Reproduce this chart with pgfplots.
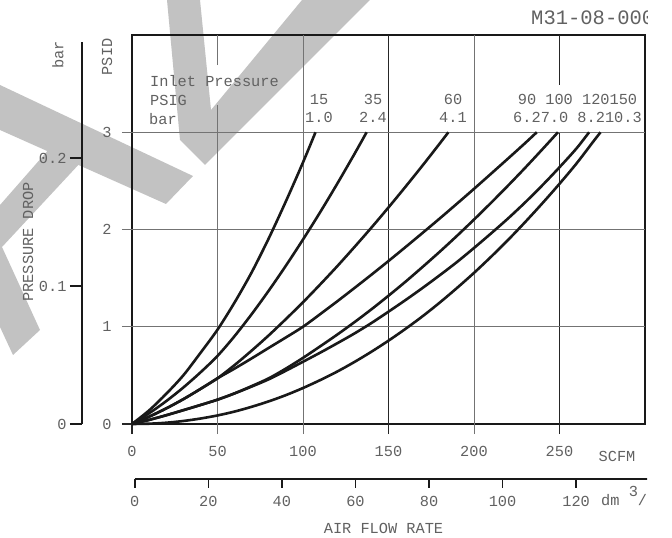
\documentclass[border=0pt]{standalone}
\usepackage{pgfplots}
\pgfplotsset{compat=1.18}
\usepackage{fontspec}
\setmainfont{Liberation Mono}
\definecolor{wm}{gray}{0.76}
\definecolor{txt}{gray}{0.38}
\definecolor{grd}{gray}{0.45}
\definecolor{grdk}{gray}{0.15}
\definecolor{crv}{gray}{0.1}
\begin{document}
\begin{tikzpicture}[font=\fontsize{15.3}{17}\selectfont,
  t/.style={text=txt,inner sep=0pt}]
\path (0pt,0pt) rectangle (672pt,538pt);
\begin{scope}
\clip (0pt,0pt) rectangle (647pt,538pt);
% watermark
\begin{scope}[x=1pt,y=1pt]
\fill[wm] (0,453) -- (193,362) -- (166,334) -- (0,408) -- cycle;
\fill[wm] (50,390) -- (82,377) -- (2,291) -- (40,208) -- (13,183) -- (0,211) -- (0,333) -- cycle;
\fill[wm] (167,538) -- (180,398) -- (205,373) -- (370,538) -- (302,538) -- (211,428) -- (200,538) -- cycle;
\end{scope}

% main axis
\begin{axis}[at={(132pt,114pt)},anchor=south west,scale only axis,
  width=513pt,height=389pt,xmin=0,xmax=300,ymin=0,ymax=4,clip=false,
  axis line style={line width=2pt,black!90},
  xtick={0,50,...,250},ytick={0,1,2,3},major tick length=0pt,
  /pgf/number format/assume math mode=true,
  tick label style={text=txt,font=\fontsize{15.3}{17}\selectfont},
  xticklabel style={anchor=north,yshift=-19pt},
  yticklabel style={anchor=east,xshift=-17pt}]
% grid lines and outward ticks
\draw[grd,line width=1pt] (50,-0.103) -- (50,3.28) (50,3.69) -- (50,4);
\draw[grd,line width=1pt] (100,-0.103) -- (100,4);
\draw[grdk,line width=1pt] (150,-0.103) -- (150,4);
\draw[grd,line width=1pt] (200,-0.103) -- (200,4);
\draw[grdk,line width=1pt] (250,-0.103) -- (250,3) (250,3.486) -- (250,4);
\draw[grd,line width=1pt] (-5.85,1) -- (300,1) (-5.85,2) -- (300,2) (-5.85,3) -- (300,3);
\draw[grdk,line width=1.5pt] (-5.85,0) -- (0,0) (0,-0.103) -- (0,0);
% curves: inlet 15, 35, 60, 90, 100, 120, 150 PSIG
\addplot[crv,line width=2.6pt,smooth] coordinates {(0,0) (10,0.14) (20,0.31) (30,0.5) (40,0.73) (50,0.97) (60,1.25) (70,1.56) (80,1.91) (90,2.29) (100,2.69) (107.3,3)};
\addplot[crv,line width=2.6pt,smooth] coordinates {(0,0) (10,0.11) (20,0.235) (30,0.375) (40,0.53) (50,0.70) (60,0.904) (70,1.13) (80,1.372) (90,1.628) (100,1.897) (110,2.177) (120,2.47) (130,2.774) (137.2,3)};
\addplot[crv,line width=2.6pt,smooth] coordinates {(0,0) (10,0.075) (20,0.16) (30,0.255) (40,0.36) (50,0.47) (60,0.606) (70,0.755) (80,0.912) (90,1.079) (100,1.252) (110,1.434) (120,1.622) (130,1.818) (140,2.019) (150,2.227) (160,2.441) (170,2.66) (180,2.885) (185,3)};
\addplot[crv,line width=2.6pt,smooth] coordinates {(0,0) (10,0.075) (20,0.16) (30,0.255) (40,0.36) (50,0.47) (60,0.57) (70,0.675) (80,0.783) (90,0.89) (100,1.0) (110,1.129) (120,1.261) (130,1.397) (140,1.535) (150,1.676) (160,1.82) (170,1.966) (180,2.114) (190,2.265) (200,2.418) (210,2.574) (220,2.731) (230,2.89) (236.7,3)};
\addplot[crv,line width=2.6pt,smooth] coordinates {(0,0) (10,0.042) (20,0.09) (30,0.142) (40,0.195) (50,0.25) (60,0.315) (70,0.39) (80,0.47) (90,0.57) (100,0.68) (110,0.798) (120,0.919) (130,1.046) (140,1.179) (150,1.319) (160,1.464) (170,1.616) (180,1.772) (190,1.934) (200,2.102) (210,2.275) (220,2.453) (230,2.636) (240,2.825) (249.1,3)};
\addplot[crv,line width=2.6pt,smooth] coordinates {(0,0) (10,0.042) (20,0.09) (30,0.142) (40,0.195) (50,0.25) (60,0.315) (70,0.385) (80,0.46) (90,0.548) (100,0.64) (110,0.733) (120,0.83) (130,0.93) (140,1.038) (150,1.155) (160,1.275) (170,1.4) (180,1.53) (190,1.665) (200,1.81) (210,1.96) (220,2.115) (230,2.28) (240,2.455) (250,2.64) (260,2.835) (267.3,3)};
\addplot[crv,line width=2.6pt,smooth] coordinates {(0,0) (10,0.003) (20,0.013) (30,0.031) (40,0.056) (50,0.088) (60,0.128) (70,0.177) (80,0.233) (90,0.297) (100,0.37) (110,0.451) (120,0.539) (130,0.637) (140,0.743) (150,0.857) (160,0.979) (170,1.109) (180,1.249) (190,1.398) (200,1.554) (210,1.72) (220,1.894) (230,2.078) (240,2.27) (250,2.47) (260,2.68) (270,2.91) (274,3)};
\end{axis}

% bar scale
\begin{axis}[at={(82pt,114pt)},anchor=south west,scale only axis,
  width=10pt,height=382pt,xmin=0,xmax=1,ymin=0,ymax=3.928,
  axis x line=none,axis y line=left,
  y axis line style={-,line width=2pt,black!90},
  ytick={0,1.419,2.735},yticklabels={0,0.1,0.2},
  tick align=outside,major tick length=12pt,
  tick style={black!90,line width=1.5pt},
  tick label style={text=txt,font=\fontsize{15.3}{17}\selectfont}]
\addplot[draw=none] coordinates {(0,0)};
\end{axis}

% dm3/s scale
\begin{axis}[at={(134.8pt,59pt)},anchor=south west,scale only axis,
  width=520pt,height=10pt,xmin=0,xmax=141.4,ymin=0,ymax=1,
  axis y line=none,axis x line=bottom,
  x axis line style={-,line width=2pt,black!90},
  xtick={0,20,...,120},
  tick align=outside,major tick length=9pt,
  tick style={black!90,line width=1.5pt},
  /pgf/number format/assume math mode=true,
  tick label style={text=txt,font=\fontsize{15.3}{17}\selectfont},
  xticklabel style={yshift=-5pt}]
\addplot[draw=none] coordinates {(0,0)};
\end{axis}

% texts
\begin{scope}[x=1pt,y=1pt]
\node[t,anchor=base west] at (150,451) {Inlet Pressure};
\node[t,anchor=base west] at (150,432) {PSIG};
\node[t,anchor=base west] at (149,413) {bar};
\node[t,anchor=base] at (319,433) {15};
\node[t,anchor=base] at (319,415) {1.0};
\node[t,anchor=base] at (373,433) {35};
\node[t,anchor=base] at (373,415) {2.4};
\node[t,anchor=base] at (453,433) {60};
\node[t,anchor=base] at (453,415) {4.1};
\node[t,anchor=base] at (577.5,433) {90 100 120150};
\node[t,anchor=base] at (577.5,415) {6.27.0 8.210.3};
\node[t,rotate=90] at (107,481) {PSID};
\node[t,rotate=90] at (58,483) {bar};
\node[t,rotate=90] at (28,296) {PRESSURE DROP};
\node[t] at (617,82) {SCFM};
\node[t,anchor=base west] at (601,32) {dm \raisebox{9pt}{3}/s};
\node[t] at (383.5,9.7) {AIR FLOW RATE};
\node[t,anchor=base west,font=\fontsize{20.5}{22}\selectfont] at (531,513) {M31-08-000};
\end{scope}
\end{scope}
\end{tikzpicture}
\end{document}
